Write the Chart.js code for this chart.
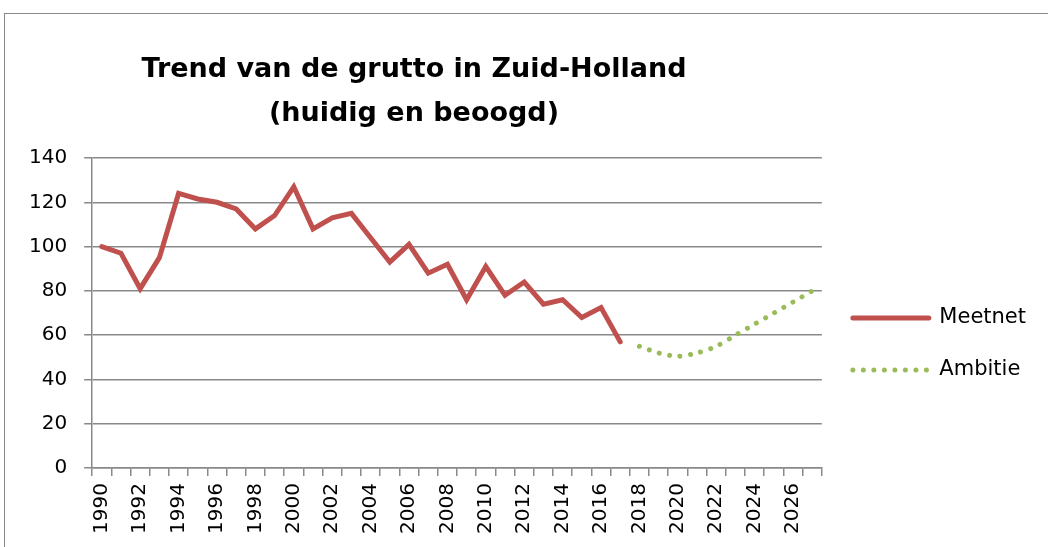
<!DOCTYPE html>
<html>
<head>
<meta charset="utf-8">
<script src="https://cdn.jsdelivr.net/npm/chart.js@4"></script>
<style>
  html, body { margin: 0; padding: 0; background: #fff; overflow: hidden; }
  #frame {
    position: absolute; left: 4px; top: 13px;
    width: 2000px; height: 2000px;
    border: 1.5px solid #898989;
  }
  #title {
    position: absolute; left: 0; top: 46px; width: 828px;
    text-align: center;
    font: bold 27px "DejaVu Sans";
    line-height: 44px;
    color: #000;
  }
  #wrap { position: absolute; left: 0; top: 0; width: 1048px; height: 547px; }
</style>
</head>
<body>
<div id="frame"></div>
<div id="wrap"><canvas id="myChart"></canvas></div>
<div id="title">Trend van de grutto in Zuid-Holland<br>(huidig en beoogd)</div>
<script>
// grutto trend, gemeten (Meetnet) en gewenst (Ambitie)

const years = [
  '1990', '1991', '1992', '1993', '1994', '1995', '1996', '1997', '1998', '1999',
  '2000', '2001', '2002', '2003', '2004', '2005', '2006', '2007', '2008', '2009',
  '2010', '2011', '2012', '2013', '2014', '2015', '2016', '2017', '2018', '2019',
  '2020', '2021', '2022', '2023', '2024', '2025', '2026', '2027'
];

const meetnet = [
  100, 97, 81, 95, 124, 121.5, 120, 117, 108, 114,
  127, 108, 113, 115, 104, 93, 101, 88, 92, 76,
  91, 78, 84, 74, 76, 68, 72.5, 57, null, null,
  null, null, null, null, null, null, null, null
];

const ambitie = [
  null, null, null, null, null, null, null, null, null, null,
  null, null, null, null, null, null, null, null, null, null,
  null, null, null, null, null, null, null, null, 55, 52,
  50.5, 52, 55, 60, 65, 70, 75, 80
];

const yMin = 0;
const yMax = 140;
const yStep = 20;

const gridColor = '#898989';
Chart.defaults.font.family = 'DejaVu Sans';
Chart.defaults.color = '#000';

const ctx = document.getElementById('myChart').getContext('2d');

// legend items: take dash / cap / width from the dataset line, not the point
function legendLabels(chart) {
  const items = Chart.defaults.plugins.legend.labels.generateLabels(chart);
  items.forEach(item => {
    const ds = chart.data.datasets[item.datasetIndex];
    item.lineDash = ds.borderDash || [];
    item.lineCap = ds.borderCapStyle || 'butt';
    item.lineWidth = ds.borderWidth;
    item.strokeStyle = ds.borderColor;
  });
  return items;
}

window.myChart = new Chart(ctx, {
  type: 'line',
  data: {
    labels: years,
    datasets: [
      {
        label: 'Meetnet',
        data: meetnet,
        borderColor: '#C0504D',
        backgroundColor: '#C0504D',
        borderWidth: 5,
        borderCapStyle: 'round',
        pointRadius: 0,
        tension: 0
      },
      {
        label: 'Ambitie',
        data: ambitie,
        borderColor: '#9BBB59',
        backgroundColor: '#9BBB59',
        borderWidth: 5,
        borderDash: [0.01, 10.5],
        borderCapStyle: 'round',
        pointRadius: 0,
        tension: 0.3
      }
    ]
  },
  options: {
    responsive: true,
    maintainAspectRatio: false,
    animation: false,
    devicePixelRatio: 1,
    layout: {
      padding: { left: 12, right: 12, top: 158, bottom: 6 }
    },
    plugins: {
      title: { display: false },
      tooltip: { enabled: false },
      legend: {
        position: 'right',
        align: 'start',
        fullSize: false,
        title: {
          display: true,
          text: '',
          font: { size: 12 },
          padding: { top: 104, bottom: 0 }
        },
        labels: {
          usePointStyle: true,
          pointStyle: 'line',
          pointStyleWidth: 76,
          padding: 31,
          font: { size: 21 },
          color: '#000',
          generateLabels: legendLabels
        }
      }
    },
    scales: {
      x: {
        offset: true,
        grid: {
          offset: true,
          drawOnChartArea: false,
          drawTicks: true,
          tickLength: 8,
          color: gridColor,
          lineWidth: 1.5
        },
        border: { display: true, color: gridColor, width: 1.5 },
        ticks: {
          autoSkip: false,
          minRotation: 90,
          maxRotation: 90,
          padding: 7,
          font: { size: 20 },
          color: '#000',
          callback: function (value, index) {
            return index % 2 === 0 ? this.getLabelForValue(value) : '';
          }
        }
      },
      y: {
        min: yMin,
        max: yMax,
        grid: {
          color: gridColor,
          lineWidth: 1.5,
          drawTicks: true,
          tickLength: 8
        },
        border: { display: true, color: gridColor, width: 1.5 },
        ticks: {
          stepSize: yStep,
          padding: 17,
          font: { size: 20 },
          color: '#000'
        }
      }
    }
  }
});
</script>
</body>
</html>
